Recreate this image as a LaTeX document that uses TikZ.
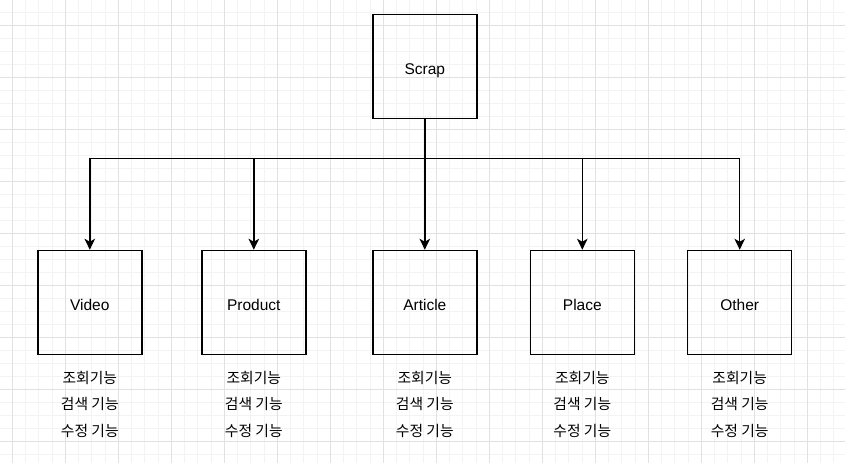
\documentclass[tikz,border=0pt]{standalone}
\usepackage{fontspec}
\setmainfont{Liberation Sans}
\newfontfamily\kr{Noto Sans CJK KR}
\usetikzlibrary{arrows.meta}
\usetikzlibrary{positioning}
\tikzset{box/.style = {draw, line width=1.5pt, minimum size=104pt, inner sep=0, font=\fontsize{15.5}{18}\selectfont, text height=15pt, text depth=0pt}}
\tikzset{feat/.style = {font=\kr\fontsize{14.8}{17}\selectfont, inner sep=0}}
\tikzset{link/.style = {line width=1.5pt, -{Stealth[length=11pt, width=10.5pt, inset=3pt]}}}
\definecolor{gridmajor}{HTML}{E1E1E1}
\definecolor{gridminor}{HTML}{F3F3F3}

\begin{document}
\begin{tikzpicture}[x=1pt, y=-1pt]
    \useasboundingbox (0, 0) rectangle (845, 463);
    \clip (0, 0) rectangle (845, 463);

    % grid
    \foreach \i in {-1, ..., 63}
      \draw [gridminor, line width=1pt] ({12.3 + 13.25 * \i}, 0) -- ++(0, 463);
    \foreach \i in {-2, ..., 34}
      \draw [gridminor, line width=1pt] (0, {25.3 + 13 * \i}) -- ++(845, 0);
    \foreach \i in {0, ..., 15}
      \draw [gridmajor, line width=1pt] ({12.3 + 53 * \i}, 0) -- ++(0, 463);
    \foreach \i in {0, ..., 8}
      \draw [gridmajor, line width=1pt] (0, {25.3 + 52 * \i}) -- ++(845, 0);

    \node [box] (scrap) at (424.8, 66.5) {Scrap};
    \coordinate (split) at (424.8, 158.3);
    \draw [line width=1.5pt] (scrap) -- (split);

    \foreach \name/\x/\label in {video/89.8/Video, product/253.8/Product, article/424.8/Article, place/582.3/Place, other/739.7/Other} {
      \node [box] (\name) at (\x, 302.5) {\label};
      \draw [link] (split) -| (\name);
      \foreach \f [count=\i] in {조회기능, 검색 기능, 수정 기능} {
        \node [feat, anchor=base] (\name-\i) at (\x, {356.3 + 26.7 * \i}) {\f};
      }
    }
  \end{tikzpicture}
\end{document}
